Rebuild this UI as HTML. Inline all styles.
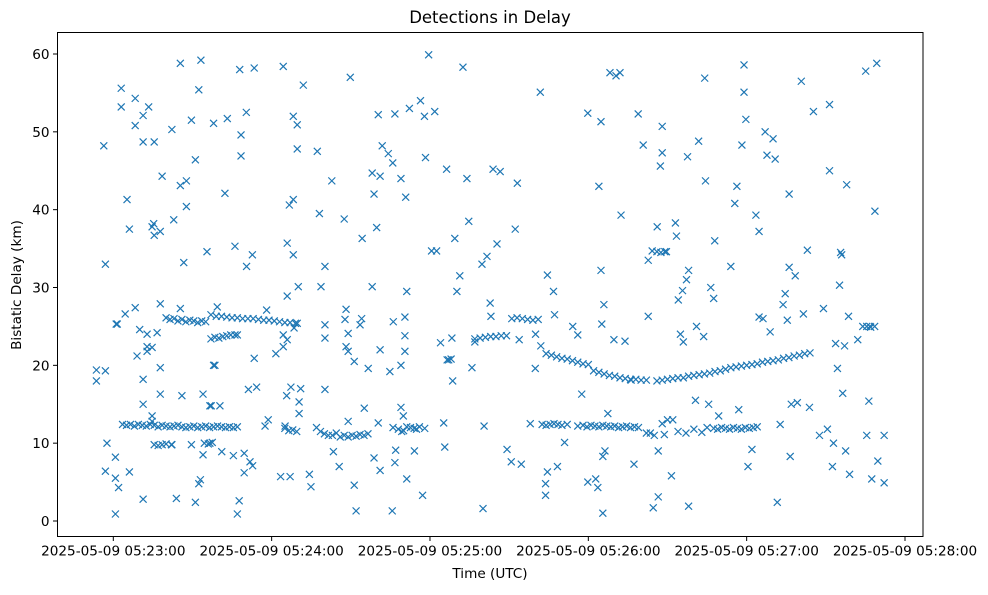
<!DOCTYPE html>
<html><head><meta charset="utf-8">
<style>
body{margin:0;background:#fff;}
svg text{font-family:"DejaVu Sans","Liberation Sans",sans-serif;fill:#000;}
</style></head>
<body>
<svg id="chart" width="988" height="590" viewBox="0 0 988 590" xmlns="http://www.w3.org/2000/svg">
<rect x="0" y="0" width="988" height="590" fill="#fff"/>
<text x="490" y="23" font-size="16.5" text-anchor="middle">Detections in Delay</text>
<text x="490" y="578" font-size="13.6" text-anchor="middle">Time (UTC)</text>
<text x="21" y="285" font-size="13.6" text-anchor="middle" transform="rotate(-90 21 285)">Bistatic Delay (km)</text>
<g id="marks"></g>
<g id="axes"></g>
<rect x="57.5" y="32.5" width="865.5" height="504" fill="none" stroke="#000" stroke-width="1"/>
</svg>
<script>
// times: seconds after 05:22:00 UTC; delays: km
const xTickSeconds = [60,120,180,240,300,360];
const xTickLabels = ["2025-05-09 05:23:00","2025-05-09 05:24:00","2025-05-09 05:25:00","2025-05-09 05:26:00","2025-05-09 05:27:00","2025-05-09 05:28:00"];
const yTickValues = [0,10,20,30,40,50,60];
const scatterTimes = [85.4,93.2,63.0,68.3,63.0,73.4,92.4,71.3,68.3,89.6,98.0,82.2,56.4,71.3,75.5,91.1,78.5,85.4,87.7,65.2,87.7,82.9,66.1,75.3,75.5,77.8,74.7,95.5,57.0,86.7,
68.3,77.8,85.4,64.5,61.1,61.5,70.0,72.8,76.6,69.0,72.8,72.8,74.7,77.8,71.3,53.6,57.0,53.6,77.8,71.3,86.0,94.0,97.1,74.7,74.7,57.6,60.8,57.0,60.8,62.0,66.1,94.0,93.0,92.4,71.3,83.9,91.1,60.8,98.0,82.2,89.6,
107.9,113.4,124.4,132.0,149.8,103.2,110.4,128.2,129.7,108.4,108.4,129.7,137.3,160.4,166.7,161.9,164.2,165.9,158.1,161.1,169.0,142.8,102.3,158.8,170.8,128.2,126.7,138.1,147.5,159.8,154.3,125.9,106.1,112.7,128.2,110.5,140.2,130.1,138.7,158.1,
125.9,171.2,99.4,118.1,148.2,129.7,140.2,147.8,154.1,153.5,166.1,170.5,106.1,107.0,124.4,125.9,128.5,140.2,149.0,170.5,124.4,121.6,148.2,149.0,161.1,170.5,113.4,98.5,151.3,156.6,164.8,169.0,111.2,114.3,127.3,131.0,125.7,130.4,130.4,140.2,96.6,100.4,155.1,169.0,169.9,117.5,118.7,125.1,149.0,160.4,169.3,171.2,96.6,101.1,105.5,109.6,111.8,112.8,109.6,143.4,145.6,158.8,167.0,166.7,161.1,171.2,123.4,127.0,134.3,134.9,151.3,107.7,107.0,152.0,165.7,
172.2,172.6,174.1,174.9,176.4,177.2,177.9,178.3,179.5,180.6,181.8,182.5,184,185.2,185.6,186.3,187.1,188.3,188.6,189.4,190.2,191.3,192.5,194,194.7,195.9,197,199.7,200.1,200.5,201.6,202.8,203.1,203.9,205.4,206.6,209.2,210.8,212.3,213.1,213.8,214.6,218,219.9,221.8,223.8,223.8,224.5,224.5,226.8,227.2,228.3,231,234.1,236,237.5,239.8,239.8,242.8,243.6,244.8,244,244.8,245.5,245.1,245.9,245.5,246.3,247.4,248.2,249.7,250.5,252,252.4,253.9,256.2,257.3,258.9,260.8,262.7,262.7,263.5,264.2,264.6,266.1,266.5,266.5,267.3,268,268,268.8,269.6,271.5,273,273.4,274.1,274.9,275.7,276,277.2,277.6,278,278,280.6,281,281.8,283.7,284.1,284.4,285.6,286.4,287.5,287.9,289.4,294,295.5,296.3,297,298.2,299,299,299.7,300.5,302,303.5,304.7,304.7,306.2,307,307.7,308.9,310,310.8,311.6,312.7,313.8,314.6,315.4,316.1,316.1,316.5,316.9,318.4,319.2,320.7,321.5,323,323.8,325.3,327.6,329.1,330.6,331.4,331.4,332.5,332.9,333.7,334.4,335.2,335.6,336,336.4,337.1,337.5,337.9,338.6,339,342.1,345.1,345.5,346.3,346.7,347.4,348.6,349.3,349.7,352.1,352.1];
const scatterDelays = [58.8,59.2,55.6,54.3,53.2,53.2,55.4,52.1,50.8,51.5,51.1,50.3,48.2,48.7,48.7,46.4,44.3,43.1,43.7,41.3,40.4,38.7,37.5,38.2,36.7,37.2,37.8,34.6,33.0,33.2,
27.4,27.9,27.3,26.6,25.3,25.3,24.6,24.0,24.2,21.2,21.8,22.4,22.3,19.7,18.2,19.4,19.3,18.0,16.3,15.0,16.1,16.3,14.8,13.5,12.8,10.0,8.2,6.4,5.5,4.3,6.3,8.5,5.3,4.8,2.8,2.9,2.4,0.9,20.0,9.8,9.8,
58.0,58.2,58.4,56.0,57.0,51.7,52.5,52.0,50.9,49.6,46.9,47.8,47.5,52.2,52.3,48.2,47.2,46.0,44.7,44.3,44.0,43.7,42.1,42.0,41.6,41.3,40.6,39.5,38.8,37.7,36.3,35.7,35.3,34.2,34.2,32.7,32.7,30.1,30.1,30.1,
28.9,29.5,27.5,27.1,27.2,25.4,25.2,25.9,26.0,25.2,25.6,26.2,23.9,23.9,23.9,23.3,24.8,23.5,24.1,23.8,22.4,21.5,22.4,21.8,22.0,21.8,20.9,20.0,20.5,19.6,19.2,20.0,16.9,17.2,17.2,17.0,16.1,15.3,13.8,16.9,14.8,14.8,14.5,14.6,13.5,12.2,13.0,12.2,12.8,12.6,11.5,12.1,10.0,8.9,8.4,8.7,7.6,7.1,6.2,8.9,7.0,8.1,9.1,7.5,6.5,5.4,5.7,5.7,6.0,4.4,4.6,2.6,0.9,1.3,1.3,
53,12,9,11.8,54,3.3,52,46.7,59.9,34.7,52.6,34.7,22.9,12.6,9.5,45.2,20.7,23.5,18,36.3,29.5,31.5,58.3,44,38.5,19.7,23,33,1.6,12.2,34,28,26.3,45.2,35.6,44.9,9.2,7.6,37.5,43.4,23.3,7.3,12.5,19.6,55.1,3.3,4.8,6.3,31.6,29.5,26.5,7,10.1,25,23.9,16.3,5,52.4,5.4,4.3,51.3,43,32.2,1,25.3,27.8,8.3,9,13.8,57.6,23.3,57.2,57.6,39.3,23.1,18.1,7.3,52.3,48.3,33.5,26.3,11.3,34.7,1.7,37.8,3.1,9,45.6,47.3,50.7,11.1,34.6,5.8,38.3,36.6,28.4,24,29.6,23,31,46.8,1.9,32.2,15.5,25,48.8,23.7,56.9,43.7,15,30,28.6,36,13.5,32.7,40.8,43,14.3,48.3,55.1,58.6,51.6,7,9.2,39.3,37.2,26.2,26,50,47,24.3,49.1,46.5,2.4,12.4,27.8,29.2,25.8,32.6,42,8.3,15,31.5,15.2,56.5,26.6,34.8,14.6,52.6,11,27.3,11.8,53.5,45,7,10,22.8,19.6,30.3,34.5,34.2,16.4,22.5,9,43.2,26.3,6,23.3,57.8,11,15.4,25,5.4,39.8,58.8,7.7,4.9,11];
const trackTimes = [63.5,65,66.5,68,69.5,71,72.5,74,75.5,77,78.5,80,81.5,83,84.5,86,87.5,89,90.5,92,93.5,95,96.5,98,99.5,101,102.5,104,105.5,107,125,126.5,128,129.5,137,138.5,140,141.5,143,144.5,146,147.5,149,150.5,152,153.5,155,156.5,166,168,170,174,176,178,222.5,224,225.5,227,228.5,230,232,236,238,239.5,241,242.5,244,245.5,247,248.5,250,251.5,253,254.5,256,257.5,259,287.5,289,290.5,292,293.5,295,296.5,298,299.5,301,302.5,304,262,265,268,270,272,274,277,280,283,285,
80,81.5,83,84.5,86,87.5,89,90.5,92,93.5,95,97,99,101,103,105,107,109,111,113,115,117,119,121,123,125,127,129,
97,98.5,100,101.5,103,104.5,75.5,77,78.5,80,82,94.5,96,97.5,
197,199,201,203,205,207,209,211,213,215,217,219,221,220,222,224,226,228,230,232,234,236,238,240,242,244,246,248,250,252,254,256,258,260,262,266,268,270,272,274,276,278,280,282,284,286,288,290,292,294,296,298,300,302,304,306,308,310,312,314,316,318,320,322,324,344,345.5,347,348.5,266,267.5,269,186.5,188];
const trackDelays = [12.4,12.3,12.4,12.2,12.4,12.3,12.2,12.4,12.3,12.1,12.3,12.2,12.1,12.2,12.3,12.1,12,12.1,12.2,12,12.1,12.2,12,12.1,12.2,12.1,12,12.1,12.0,12.1,11.9,11.6,11.7,11.5,12,11.5,11.2,11,11,11.3,10.8,11,10.8,11,10.9,11.1,11,11.2,12,11.8,11.6,11.9,12.1,11.9,12.4,12.3,12.4,12.5,12.4,12.3,12.4,12.2,12.3,12.1,12.3,12.2,12.1,12.3,12.2,12.1,12.2,12,12.1,12.2,12,12.1,12,11.9,11.8,12,11.9,11.8,12,11.9,11.8,12,11.9,12,12.1,11.3,11,12.5,13,13,11.5,11.3,11.8,11.4,12,
26.1,25.9,26,25.7,25.9,25.6,25.8,25.7,25.5,25.7,25.6,26.5,26.3,26.3,26.2,26.1,26.1,26,26,26,25.9,25.8,25.8,25.7,25.6,25.5,25.5,25.4,
23.4,23.6,23.5,23.7,23.8,23.9,9.8,9.7,9.8,9.9,9.8,10,9.9,10.1,
23.4,23.5,23.6,23.7,23.7,23.8,23.8,26,26.1,26,25.9,25.8,25.9,24,22.5,21.5,21.3,21.1,20.9,20.8,20.6,20.4,20.2,20.1,19.3,19.1,18.9,18.7,18.6,18.4,18.3,18.2,18.2,18.1,18.1,18,18.1,18.2,18.3,18.4,18.4,18.6,18.7,18.8,18.9,19,19.2,19.3,19.5,19.7,19.8,19.9,20,20.1,20.2,20.4,20.5,20.6,20.7,20.9,21,21.2,21.3,21.5,21.6,25,25,24.9,25,34.6,34.5,34.6,20.7,20.8];

const PL=57.5, PR=923, PT=32.5, PB=536.5;
function xScale(s){ return 113.3 + (s-60)*(905-113.3)/300; }
function yScale(v){ return 521 - v*(521-54)/60; }
const NS="http://www.w3.org/2000/svg";
const axes=document.getElementById('axes');
xTickSeconds.forEach((s,i)=>{
  const x=xScale(s);
  const t=document.createElementNS(NS,'line');
  t.setAttribute('x1',x);t.setAttribute('x2',x);t.setAttribute('y1',PB);t.setAttribute('y2',PB+4.5);t.setAttribute('stroke','#000');
  
  
  axes.appendChild(t);
  const l=document.createElementNS(NS,'text');
  l.setAttribute('x',x);l.setAttribute('y',PB+19);l.setAttribute('font-size','13.6');l.setAttribute('text-anchor','middle');
  l.textContent=xTickLabels[i];
  
  
  axes.appendChild(l);
});
yTickValues.forEach(v=>{
  const y=yScale(v);
  const t=document.createElementNS(NS,'line');
  t.setAttribute('x1',PL-4.5);t.setAttribute('x2',PL);t.setAttribute('y1',y);t.setAttribute('y2',y);t.setAttribute('stroke','#000');
  
  
  axes.appendChild(t);
  const l=document.createElementNS(NS,'text');
  l.setAttribute('x',PL-8);l.setAttribute('y',y+5);l.setAttribute('font-size','13.6');l.setAttribute('text-anchor','end');
  l.textContent=v;
  
  
  axes.appendChild(l);
});
const marks=document.getElementById('marks');
function drawX(s,v){
  const x=xScale(s), y=yScale(v), r=3.5;
  const p=document.createElementNS(NS,'path');
  p.setAttribute('d',`M${x-r},${y-r}L${x+r},${y+r}M${x-r},${y+r}L${x+r},${y-r}`);
  p.setAttribute('stroke','#1f77b4');p.setAttribute('stroke-width','1.2');p.setAttribute('fill','none');
  
  
  marks.appendChild(p);
}
scatterTimes.forEach((s,i)=>drawX(s,scatterDelays[i]));
trackTimes.forEach((s,i)=>drawX(s,trackDelays[i]));
</script>
</body></html>
